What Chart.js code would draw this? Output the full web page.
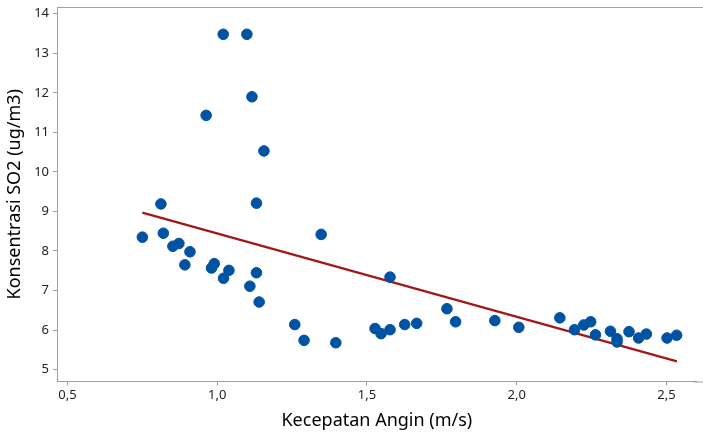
<!DOCTYPE html>
<html>
<head>
<meta charset="utf-8">
<script src="https://cdn.jsdelivr.net/npm/chart.js@4.4.1/dist/chart.umd.min.js"></script>
<style>
html,body{margin:0;padding:0;background:#fff;}
#wrap{width:703px;height:432px;}
</style>
</head>
<body>
<div id="wrap"><canvas id="c" width="703" height="432"></canvas></div>
<script>
// Wind speed (m/s)
const windSpeed = [0.750,0.812,0.820,0.852,0.872,0.909,0.892,0.981,0.990,1.021,1.039,
  0.963,1.020,1.099,1.116,1.156,1.131,1.347,1.131,1.109,1.140,1.259,1.290,1.396,
  1.527,1.547,1.577,1.577,1.626,1.666,1.767,1.796,1.927,2.007,2.144,2.193,2.224,
  2.247,2.263,2.313,2.335,2.335,2.375,2.407,2.433,2.502,2.534];
// SO2 concentration (ug/m3)
const so2 = [8.35,9.19,8.45,8.12,8.19,7.98,7.65,7.57,7.68,7.31,7.51,
  11.43,13.48,13.48,11.90,10.53,9.21,8.42,7.45,7.11,6.71,6.14,5.74,5.68,
  6.04,5.91,6.01,7.34,6.14,6.17,6.54,6.21,6.24,6.07,6.31,6.01,6.13,
  6.21,5.88,5.97,5.78,5.70,5.96,5.80,5.90,5.80,5.87];
// Fitted regression line endpoints
const fitX = [0.750, 2.535];
const fitY = [8.97, 5.21];
const xTicks = [0.5, 1.0, 1.5, 2.0, 2.5];
const yTicks = [5, 6, 7, 8, 9, 10, 11, 12, 13, 14];

const FONT = "'Noto Sans', 'Open Sans', sans-serif";
const AXIS = '#a0a0a0';

const frame = {
  id: 'frame',
  afterDraw(chart) {
    const {ctx, chartArea} = chart;
    ctx.save();
    ctx.fillStyle = '#fff';
    ctx.fillRect(chartArea.right - 2, chartArea.bottom + 1.5, 5, 14);
    ctx.strokeStyle = AXIS;
    ctx.lineWidth = 1;
    ctx.beginPath();
    ctx.moveTo(chartArea.left, chartArea.top + 0.5);
    ctx.lineTo(chart.width, chartArea.top + 0.5);
    ctx.moveTo(chartArea.right - 3, chartArea.bottom + 0.5);
    ctx.lineTo(chart.width, chartArea.bottom + 0.5);
    ctx.stroke();
    ctx.restore();
  }
};

function zeroPad(s) {
  s.paddingTop = 0; s.paddingBottom = 0; s.paddingLeft = 0; s.paddingRight = 0;
}
const tickColor = list => c => (c.tick && list.includes(c.tick.value)) ? AXIS : 'rgba(0,0,0,0)';

new Chart(document.getElementById('c'), {
  type: 'scatter',
  data: {
    datasets: [
      {
        data: windSpeed.map((x, i) => ({x: x, y: so2[i]})),
        backgroundColor: '#0053a3',
        borderColor: '#0053a3',
        pointRadius: 5.3,
        pointHoverRadius: 5.3,
        order: 1
      },
      {
        type: 'line',
        data: fitX.map((x, i) => ({x: x, y: fitY[i]})),
        borderColor: '#a01818',
        borderWidth: 2.2,
        pointRadius: 0,
        fill: false,
        order: 2
      }
    ]
  },
  options: {
    responsive: false,
    animation: false,
    layout: {padding: {top: 7, right: 0, left: 0, bottom: 0}},
    plugins: {legend: {display: false}, tooltip: {enabled: false}},
    scales: {
      x: {
        type: 'linear',
        min: 0.465,
        max: 2.601,
        afterFit(s) { s.height = 50.5; zeroPad(s); },
        afterBuildTicks(s) { s.ticks = xTicks.map(v => ({value: v})); },
        border: {display: true, color: AXIS, width: 1},
        grid: {drawOnChartArea: false, drawTicks: true, tickLength: 4, color: tickColor(xTicks)},
        ticks: {
          color: '#222',
          font: {family: FONT, size: 13},
          padding: 2,
          maxRotation: 0,
          callback: v => v.toFixed(1).replace('.', ',')
        },
        title: {
          display: true,
          text: 'Kecepatan Angin (m/s)',
          color: '#000',
          font: {family: FONT, size: 18},
          padding: {top: 2, bottom: 0}
        }
      },
      y: {
        type: 'linear',
        min: 4.70,
        max: 14.17,
        afterFit(s) { s.width = 57; zeroPad(s); },
        afterBuildTicks(s) { s.ticks = yTicks.map(v => ({value: v})); },
        border: {display: true, color: AXIS, width: 1},
        grid: {drawOnChartArea: false, drawTicks: true, tickLength: 4, color: tickColor(yTicks)},
        ticks: {
          color: '#222',
          font: {family: FONT, size: 13},
          padding: 4
        },
        title: {
          display: true,
          text: 'Konsentrasi SO2 (ug/m3)',
          color: '#000',
          font: {family: FONT, size: 18},
          padding: {top: 4, bottom: 2}
        }
      }
    }
  },
  plugins: [frame]
});
</script>
</body>
</html>
